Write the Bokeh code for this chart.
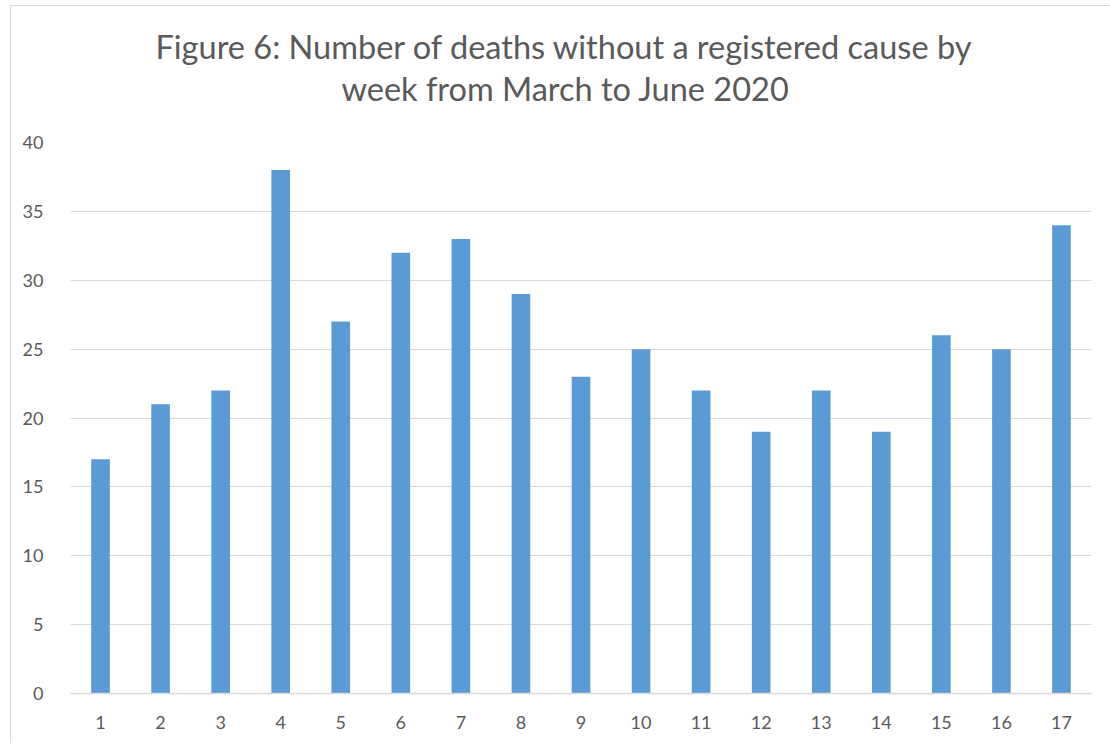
from bokeh.plotting import figure
from bokeh.models import Title, FactorRange, SingleIntervalTicker, Range1d
from bokeh.embed import file_html
from bokeh.resources import INLINE

weeks = [str(i) for i in range(1, 18)]
deaths = [17, 21, 22, 38, 27, 32, 33, 29, 23, 25, 22, 19, 22, 19, 26, 25, 34]
title_line1 = "Figure 6: Number of deaths without a registered cause by"
title_line2 = "week from March to June 2020"

FONT = "Lato"
TXT = "#595959"
GRID = "#d9d9d9"

p = figure(
    x_range=FactorRange(*weeks, range_padding=0),
    y_range=Range1d(0, 40),
    frame_width=1021, frame_height=551,
    min_border_left=59, min_border_right=19,
    min_border_top=136, min_border_bottom=50,
    output_backend="svg", toolbar_location=None,
    title=title_line1,
)
p.title.align = "left"
p.title.offset = 85
p.title.text_font = FONT
p.title.text_font_size = "32.5px"
p.title.text_font_style = "normal"
p.title.text_color = TXT
p.title.standoff = 0

# spacer between the title block and the plot frame (closest to the frame)
spacer = Title(text=" ", text_font=FONT, text_font_size="10px", standoff=19)
p.add_layout(spacer, "above")
t2 = Title(text=title_line2, align="left", offset=271, text_font=FONT, text_font_size="32.5px",
           text_font_style="normal", text_color=TXT, standoff=3)
p.add_layout(t2, "above")

p.vbar(x=weeks, top=deaths, width=0.31, fill_color="#5b9bd5", line_color=None)

p.outline_line_color = None
p.xgrid.grid_line_color = None
p.ygrid.grid_line_color = GRID
p.ygrid.grid_line_width = 1
p.yaxis.ticker = SingleIntervalTicker(interval=5)
p.yaxis.axis_line_color = None
p.yaxis.major_tick_line_color = None
p.yaxis.minor_tick_line_color = None
p.yaxis.major_label_standoff = 21
p.xaxis.axis_line_color = GRID
p.xaxis.axis_line_width = 1.5
p.xaxis.major_tick_line_color = None
p.xaxis.minor_tick_line_color = None
p.xaxis.major_label_standoff = 16
for ax in (p.xaxis, p.yaxis):
    ax.major_label_text_font = FONT
    ax.major_label_text_font_size = "18px"
    ax.major_label_text_color = TXT

p.styles = {"margin-left": "10px", "margin-top": "5px",
            "border-left": "1px solid #d9d9d9", "border-top": "1px solid #d9d9d9"}

open("out.html", "w").write(file_html(p, INLINE))
